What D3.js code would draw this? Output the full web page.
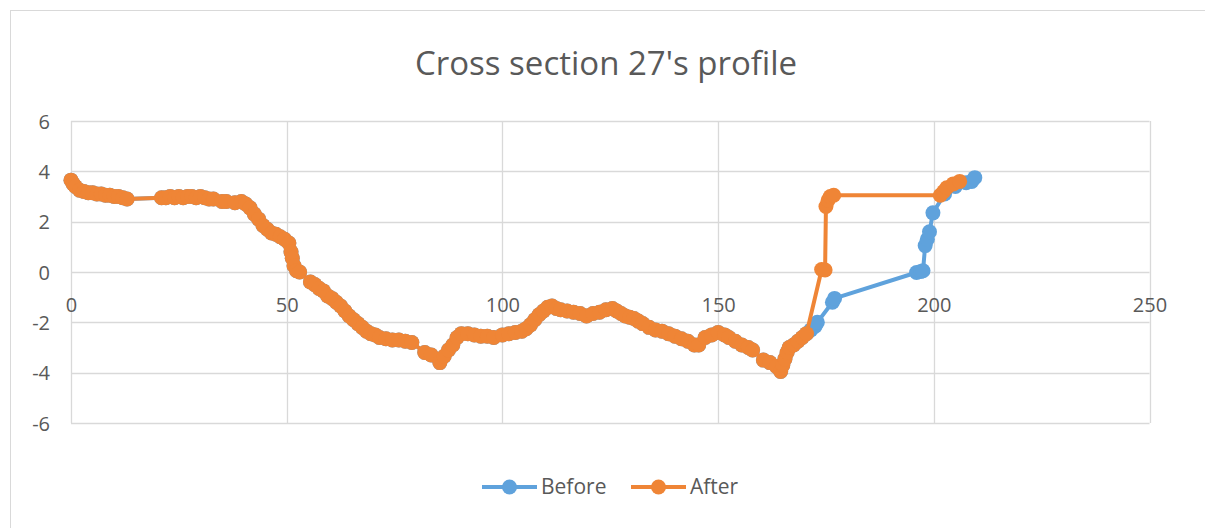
<!DOCTYPE html>
<html>
<head>
<meta charset="utf-8">
<script src="https://cdn.jsdelivr.net/npm/d3@7"></script>
<style>
body { margin: 0; background: #fff; }
text { font-family: "Open Sans", "Noto Sans", sans-serif; fill: #595959; }
</style>
</head>
<body>
<svg width="1205" height="528"></svg>
<script>
// shared part of the profile (both surveys lie on top of each other here)
var baseStation = [0, 0.5, 1, 2, 3, 4, 5, 6, 7, 8, 9, 10, 11, 12, 13,
    21, 22, 23, 24, 25, 26, 27, 28, 29, 30, 31, 32, 33, 35, 36, 38, 39.5,
    40.5, 41.5, 42.5, 43.5, 44.5, 45.5, 46.5, 47.5, 48.5, 49.5, 50.5, 51, 51.3, 51.7, 52.3, 53,
    55.5, 56.5, 57.5, 58.5, 59.5, 60.5, 61.5, 62.5, 63.5, 64.5, 65.5, 66.5, 67.5, 68.5, 69.5,
    70.5, 71.5, 73, 74.5, 76, 77.5, 79, 82, 83.5, 85.5, 86.5, 87.5, 88.5, 89.5, 90.5, 92,
    93.5, 95, 96.5, 98, 100, 101.5, 103, 104.5, 105.5, 106.5, 107.5, 108.5, 109.5, 110.5,
    111.5, 112.5, 113.5, 115, 116.5, 118, 119.5, 121, 122.5, 124, 125.5, 126.5, 127.5, 128.5,
    129.5, 130.5, 131.5, 132.5, 134, 135.5, 137, 138.5, 140, 141.5, 143, 144.5, 145.5, 147,
    148.5, 150, 151.5, 152.5, 154, 155.5, 157, 158, 160.5, 162, 163.5, 164.5, 165, 165.5,
    166, 166.5, 167.5, 168.5, 169.5];
var baseElev = [3.65, 3.5, 3.4, 3.25, 3.2, 3.15, 3.15, 3.1, 3.1, 3.05, 3.05, 3.0, 3.0, 2.95, 2.9,
    2.95, 2.95, 3.0, 2.95, 3.0, 2.95, 3.0, 3.0, 2.95, 3.0, 2.95, 2.9, 2.9, 2.8, 2.8, 2.75, 2.8,
    2.7, 2.55, 2.3, 2.1, 1.85, 1.7, 1.55, 1.5, 1.4, 1.3, 1.15, 0.8, 0.55, 0.25, 0.05, 0.0,
    -0.4, -0.5, -0.65, -0.75, -0.95, -1.05, -1.2, -1.35, -1.55, -1.75, -1.9, -2.05, -2.2, -2.35, -2.45,
    -2.5, -2.6, -2.65, -2.7, -2.7, -2.75, -2.8, -3.2, -3.3, -3.6, -3.35, -3.1, -2.9, -2.6, -2.45, -2.45,
    -2.5, -2.55, -2.55, -2.6, -2.5, -2.45, -2.4, -2.35, -2.25, -2.1, -1.9, -1.7, -1.55, -1.4,
    -1.35, -1.45, -1.5, -1.55, -1.6, -1.65, -1.75, -1.65, -1.6, -1.5, -1.45, -1.55, -1.65, -1.75,
    -1.8, -1.85, -1.95, -2.05, -2.2, -2.3, -2.35, -2.45, -2.55, -2.65, -2.75, -2.9, -2.9, -2.6,
    -2.5, -2.4, -2.5, -2.6, -2.75, -2.9, -3.0, -3.1, -3.5, -3.6, -3.75, -3.95, -3.7, -3.45,
    -3.2, -3.0, -2.9, -2.75, -2.6];

var beforeTailStation = [170.5, 171.5, 172.5, 173, 176.5, 177, 196, 197, 197.5, 198, 198.5, 199, 199.8,
    202.5, 205, 207.5, 208.8, 209.5];
var beforeTailElev = [-2.45, -2.3, -2.15, -2.0, -1.2, -1.05, -0.02, 0.02, 0.05, 1.05, 1.3, 1.6, 2.35,
    3.1, 3.4, 3.55, 3.6, 3.75];

var afterTailStation = [170.5, 174, 174.8, 175, 175.5, 176, 176.8, 201.5, 202.3, 203, 204.5, 206];
var afterTailElev = [-2.45, 0.1, 0.08, 2.6, 2.85, 3.0, 3.05, 3.05, 3.2, 3.35, 3.5, 3.6];

var xTicks = [0, 50, 100, 150, 200, 250];
var yTicks = [-6, -4, -2, 0, 2, 4, 6];
var seriesNames = ["Before", "After"];
var seriesColors = ["#5fa2dc", "#ef8536"];

function toPoints(xs, ys) {
    return xs.map(function(x, i) { return [x, ys[i]]; });
}
var before = toPoints(baseStation.concat(beforeTailStation), baseElev.concat(beforeTailElev));
var after = toPoints(baseStation.concat(afterTailStation), baseElev.concat(afterTailElev));

var svg = d3.select("svg");

// chart area frame
svg.append("rect")
    .attr("x", 10.5).attr("y", 10.5)
    .attr("width", 1205).attr("height", 530)
    .attr("fill", "#fff").attr("stroke", "#d9d9d9");

var x = d3.scaleLinear().domain([0, 250]).range([71, 1149.5]);
var y = d3.scaleLinear().domain([-6, 6]).range([423, 121]);

// gridlines
svg.append("g").selectAll("line").data(yTicks).join("line")
    .attr("x1", x(0)).attr("x2", x(250))
    .attr("y1", function(d) { return Math.round(y(d)) + 0.5; })
    .attr("y2", function(d) { return Math.round(y(d)) + 0.5; })
    .attr("stroke", "#d9d9d9").attr("stroke-width", 1.3);
svg.append("g").selectAll("line").data(xTicks).join("line")
    .attr("y1", y(6)).attr("y2", y(-6))
    .attr("x1", function(d) { return Math.round(x(d)) + 0.5; })
    .attr("x2", function(d) { return Math.round(x(d)) + 0.5; })
    .attr("stroke", "#d9d9d9").attr("stroke-width", 1.3);

// axes, labels only (Excel style: x labels sit under the zero line)
var plain = function(d) { return String(d); };
var yAxis = svg.append("g")
    .attr("transform", "translate(" + (x(0) - 21) + ",0)")
    .call(d3.axisLeft(y).tickValues(yTicks).tickFormat(plain).tickSize(0).tickPadding(0));
var xAxis = svg.append("g")
    .attr("transform", "translate(0," + (y(0) + 33) + ")")
    .call(d3.axisBottom(x).tickValues(xTicks).tickFormat(plain).tickSize(0).tickPadding(0));
[yAxis, xAxis].forEach(function(a) {
    a.select(".domain").remove();
    a.selectAll("text").attr("font-size", 20).attr("fill", "#595959")
        .style("font-family", "'Open Sans', sans-serif")
        .attr("dy", "0.35em");
});

var line = d3.line()
    .x(function(d) { return x(d[0]); })
    .y(function(d) { return y(d[1]); });

function drawSeries(data, color) {
    var g = svg.append("g");
    g.append("path")
        .attr("d", line(data))
        .attr("fill", "none")
        .attr("stroke", color)
        .attr("stroke-width", 4)
        .attr("stroke-linejoin", "round");
    g.selectAll("circle").data(data).join("circle")
        .attr("cx", function(d) { return x(d[0]); })
        .attr("cy", function(d) { return y(d[1]); })
        .attr("r", 7.5)
        .attr("fill", color);
}
drawSeries(before, seriesColors[0]);
drawSeries(after, seriesColors[1]);

// title
svg.append("text")
    .attr("x", 606).attr("y", 75)
    .attr("text-anchor", "middle")
    .attr("font-size", 33)
    .text("Cross section 27's profile");

// legend
var legendX = [482, 631];
seriesNames.forEach(function(name, i) {
    var lx = legendX[i];
    svg.append("line")
        .attr("x1", lx).attr("x2", lx + 55)
        .attr("y1", 487).attr("y2", 487)
        .attr("stroke", seriesColors[i]).attr("stroke-width", 4);
    svg.append("circle")
        .attr("cx", lx + 27.5).attr("cy", 487).attr("r", 7.5)
        .attr("fill", seriesColors[i]);
    svg.append("text")
        .attr("x", lx + 59).attr("y", 487)
        .attr("dy", "0.35em")
        .attr("font-size", 21)
        .text(name);
});
</script>
</body>
</html>
